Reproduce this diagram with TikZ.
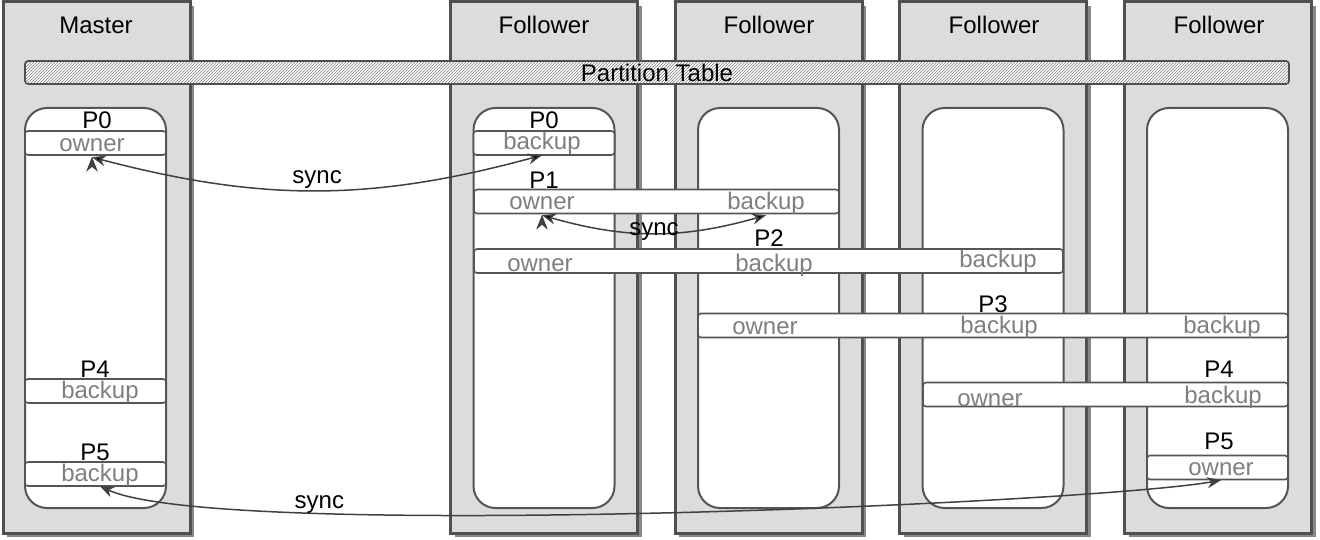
\documentclass[tikz,border=0pt]{standalone}
\usepackage{fontspec}
\setmainfont{Liberation Sans}
\usetikzlibrary{arrows.meta,shadows,patterns}
\definecolor{servergray}{RGB}{220,220,220}
\definecolor{boxline}{RGB}{80,80,80}
\definecolor{shadowgray}{RGB}{136,136,136}
\definecolor{lineg}{RGB}{85,85,85}
\definecolor{rolegray}{RGB}{127,127,127}
\definecolor{arrowgray}{RGB}{64,64,64}
\tikzset{
  every node/.style={font=\fontsize{24}{28}\selectfont, inner sep=1pt},
  server/.style={draw=boxline, line width=3pt, fill=servergray, inner sep=0pt,
    minimum width=187pt, minimum height=531pt,
    drop shadow={shadow xshift=4pt, shadow yshift=-4pt, fill=shadowgray, opacity=1}},
  store/.style={draw=lineg, line width=2pt, fill=white, rounded corners=22pt,
    inner sep=0pt, minimum width=141pt, minimum height=400pt},
  table/.style={draw=boxline, line width=1.6pt, rounded corners=3pt, inner sep=0pt,
    preaction={fill=white}, pattern=north east lines, pattern color=gray,
    minimum width=1264pt, minimum height=23pt},
  strip/.style={draw=lineg, line width=1.6pt, fill=white, rounded corners=3pt,
    inner sep=0pt, minimum height=24pt},
  role/.style={text=rolegray, inner sep=0pt, text height=13pt, text depth=5pt},
  sync/.style={{Stealth[length=14pt,width=11pt]}-{Stealth[length=14pt,width=11pt]},
    draw=arrowgray, line width=1.5pt}
}
\begin{document}
\begin{tikzpicture}[x=1pt,y=1pt]
  \useasboundingbox (0,0) rectangle (1320,-540);

  % servers
  \node [server] (master) at (96.5,-267.5) {};
  \node [server] (fola) at (544,-267.5) {};
  \node [server] (folb) at (768.5,-267.5) {};
  \node [server] (folc) at (993,-267.5) {};
  \node [server] (fold) at (1218,-267.5) {};

  \node (tmaster) at (96,-25) {Master};
  \node (tfola) at (544,-25) {Follower};
  \node (tfolb) at (769,-25) {Follower};
  \node (tfolc) at (994,-25) {Follower};
  \node (tfold) at (1219,-25) {Follower};

  \node [store] (smaster) at (95.5,-308) {};
  \node [store] (sfola) at (544,-308) {};
  \node [store] (sfolb) at (768.5,-308) {};
  \node [store] (sfolc) at (993,-308) {};
  \node [store] (sfold) at (1217.5,-308) {};

  \node [table] (ptable) at (657,-72.5) {Partition Table};

  % partitions
  \node [strip, minimum width=141pt] (p0m) at (95.5,-143) {};
  \node [strip, minimum width=141pt] (p0f) at (544,-143) {};
  \node [strip, minimum width=365pt] (p1) at (656.5,-201.5) {};
  \node [strip, minimum width=589pt] (p2) at (768.5,-261) {};
  \node [strip, minimum width=590pt] (p3) at (993,-325.5) {};
  \node [strip, minimum width=141pt] (p4m) at (95.5,-391) {};
  \node [strip, minimum width=365pt] (p4) at (1105.5,-394.5) {};
  \node [strip, minimum width=141pt] (p5m) at (95.5,-474) {};
  \node [strip, minimum width=141pt] (p5f) at (1217.5,-467.5) {};

  \node (n0m) at (97,-120) {P0};
  \node (n0f) at (544,-120) {P0};
  \node (n1) at (544,-180) {P1};
  \node (n2) at (769,-238) {P2};
  \node (n3) at (993,-304) {P3};
  \node (n4m) at (95,-369) {P4};
  \node (n4f) at (1219,-369) {P4};
  \node (n5m) at (95,-452) {P5};
  \node (n5f) at (1219,-441) {P5};

  \node [role] (p0mown) at (92,-148) {owner};
  \node [role] (p0fbak) at (542,-146) {backup};
  \node [role] (p1own) at (542,-206) {owner};
  \node [role] (p1bak) at (766,-206) {backup};
  \node [role] (p2own) at (540,-268) {owner};
  \node [role] (p2bakb) at (774,-268) {backup};
  \node [role] (p2bakc) at (998,-263) {backup};
  \node [role] (p3own) at (765,-330) {owner};
  \node [role] (p3bakc) at (999,-329) {backup};
  \node [role] (p3bakd) at (1222,-329) {backup};
  \node [role] (p4mbak) at (100,-394) {backup};
  \node [role] (p4own) at (990,-402) {owner};
  \node [role] (p4bak) at (1223,-399) {backup};
  \node [role] (p5mbak) at (100,-477) {backup};
  \node [role] (p5fown) at (1221,-471) {owner};

  % replication
  \path[sync] (p0mown.south) edge [bend right=15] node [above=0pt] (synca) {sync} (p0fbak.south);
  \path[sync] (p1own.south) edge [bend right=16] node [above=-9pt] (syncb) {sync} (p1bak.south);
  \draw[sync] (p5mbak.south) .. controls +(119,-55) and +(-129,-23) .. (p5fown.south)
    node [pos=0.26, above=-3pt] (syncc) {sync};
\end{tikzpicture}
\end{document}
